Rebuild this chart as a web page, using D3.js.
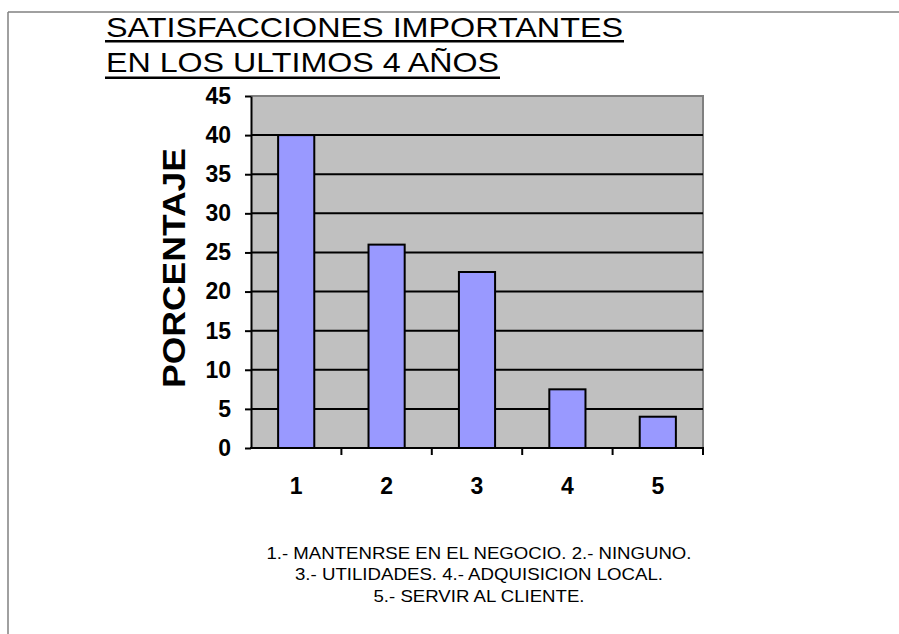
<!DOCTYPE html>
<html>
<head>
<meta charset="utf-8">
<script src="https://cdn.jsdelivr.net/npm/d3@7"></script>
<style>
  html, body { margin: 0; padding: 0; background: #fff; }
  svg { display: block; font-family: "Liberation Sans", Arial, sans-serif; }
</style>
</head>
<body>
<svg id="chart" width="899" height="634"></svg>
<script>
// Survey results: share of respondents per answer
const categories = ["1", "2", "3", "4", "5"];
const values = [40, 26, 22.5, 7.5, 4];
const yTicks = [0, 5, 10, 15, 20, 25, 30, 35, 40, 45];
const titleLines = ["SATISFACCIONES IMPORTANTES", "EN LOS ULTIMOS 4 AÑOS"];
const yLabel = "PORCENTAJE";
const noteLines = [
  "1.- MANTENRSE EN EL NEGOCIO. 2.- NINGUNO.",
  "3.- UTILIDADES. 4.- ADQUISICION LOCAL.",
  "5.- SERVIR AL CLIENTE."
];

const svg = d3.select("#chart");

// outer frame (top and left edges visible)
svg.append("line").attr("x1", 8).attr("x2", 899).attr("y1", 12).attr("y2", 12)
  .attr("stroke", "#808080").attr("stroke-width", 1.5);
svg.append("line").attr("x1", 8).attr("x2", 8).attr("y1", 12).attr("y2", 634)
  .attr("stroke", "#808080").attr("stroke-width", 1.5);

const plot = { left: 251, right: 703, top: 96, bottom: 448 };

const x = d3.scaleBand().domain(categories).range([plot.left, plot.right]).paddingInner(0.6).paddingOuter(0.3);
const xb = d3.scaleBand().domain(categories).range([plot.left, plot.right]);
const y = d3.scaleLinear().domain([0, 45]).range([plot.bottom, plot.top]);

// plot background
svg.append("rect")
  .attr("x", plot.left).attr("y", plot.top)
  .attr("width", plot.right - plot.left).attr("height", plot.bottom - plot.top)
  .attr("fill", "#c0c0c0");
// gray top/right border of plot area
svg.append("path")
  .attr("d", `M${plot.left},${plot.top}H${plot.right}V${plot.bottom}`)
  .attr("fill", "none").attr("stroke", "#808080").attr("stroke-width", 2);

// horizontal gridlines
svg.append("g").selectAll("line")
  .data(yTicks.filter(t => t > 0 && t < 45))
  .join("line")
  .attr("x1", plot.left).attr("x2", plot.right)
  .attr("y1", d => y(d)).attr("y2", d => y(d))
  .attr("stroke", "#000").attr("stroke-width", 2);

// bars
svg.append("g").selectAll("rect")
  .data(values)
  .join("rect")
  .attr("x", (d, i) => x(categories[i]))
  .attr("width", x.bandwidth())
  .attr("y", d => y(d))
  .attr("height", d => y(0) - y(d))
  .attr("fill", "#9999ff")
  .attr("stroke", "#000")
  .attr("stroke-width", 2);

// y axis
const yAxis = d3.axisLeft(y).tickValues(yTicks).tickSize(6).tickSizeOuter(0).tickPadding(14);
const gy = svg.append("g").attr("transform", `translate(${plot.left},0)`).call(yAxis);
gy.select(".domain").attr("stroke", "#000").attr("stroke-width", 2);
gy.selectAll(".tick line").attr("stroke", "#000").attr("stroke-width", 2);
gy.selectAll(".tick text").attr("font-size", 23).attr("font-weight", "bold")
  .attr("fill", "#000").attr("font-family", "Liberation Sans, Arial, sans-serif");

// x axis: ticks at category boundaries
const xAxis = d3.axisBottom(xb).tickSize(0).tickPadding(30);
const gx = svg.append("g").attr("transform", `translate(0,${plot.bottom})`).call(xAxis);
gx.select(".domain").remove();
gx.selectAll(".tick text").attr("font-size", 23).attr("font-weight", "bold")
  .attr("fill", "#000").attr("font-family", "Liberation Sans, Arial, sans-serif");
svg.append("line").attr("x1", plot.left - 1).attr("x2", plot.right + 1)
  .attr("y1", plot.bottom).attr("y2", plot.bottom)
  .attr("stroke", "#000").attr("stroke-width", 2);
const boundaries = categories.map(c => xb(c)).concat([plot.right]);
svg.append("g").selectAll("line").data(boundaries.slice(1)).join("line")
  .attr("x1", d => d).attr("x2", d => d)
  .attr("y1", plot.bottom).attr("y2", plot.bottom + 7)
  .attr("stroke", "#000").attr("stroke-width", 2);

// title, underlined
const titleWidths = [517, 393];
const underlineEnds = [624, 500];
const title = svg.append("g");
titleLines.forEach((t, i) => {
  title.append("text")
    .attr("x", 106).attr("y", 36.7 + i * 35)
    .attr("font-size", 28.5).attr("fill", "#000")
    .attr("textLength", titleWidths[i]).attr("lengthAdjust", "spacingAndGlyphs")
    .text(t);
  title.append("line")
    .attr("x1", 105).attr("x2", underlineEnds[i])
    .attr("y1", 41.2 + i * 36.5).attr("y2", 41.2 + i * 36.5)
    .attr("stroke", "#000").attr("stroke-width", 2.5);
});

// y axis title
svg.append("text")
  .attr("transform", `translate(185,268) rotate(-90)`)
  .attr("text-anchor", "middle")
  .attr("font-size", 30.5).attr("font-weight", "bold").attr("fill", "#000")
  .attr("textLength", 240).attr("lengthAdjust", "spacingAndGlyphs")
  .text(yLabel);

// category notes
const noteWidths = [425, 368, 211];
svg.append("g").selectAll("text").data(noteLines).join("text")
  .attr("x", 479).attr("y", (d, i) => 559 + i * 21.4)
  .attr("text-anchor", "middle")
  .attr("font-size", 17).attr("fill", "#000")
  .attr("textLength", (d, i) => noteWidths[i]).attr("lengthAdjust", "spacingAndGlyphs")
  .text(d => d);
</script>
</body>
</html>
